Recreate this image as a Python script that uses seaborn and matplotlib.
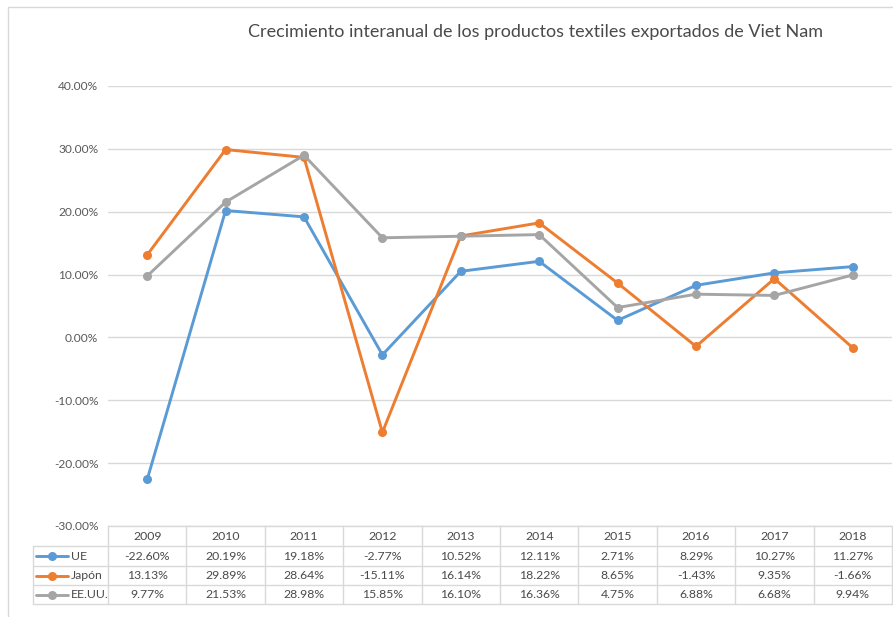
import numpy as np
import pandas as pd
import matplotlib
matplotlib.use("Agg")
import matplotlib.pyplot as plt
import seaborn as sns

years = ["2009", "2010", "2011", "2012", "2013", "2014", "2015", "2016", "2017", "2018"]
ue = [-22.60, 20.19, 19.18, -2.77, 10.52, 12.11, 2.71, 8.29, 10.27, 11.27]
japon = [13.13, 29.89, 28.64, -15.11, 16.14, 18.22, 8.65, -1.43, 9.35, -1.66]
eeuu = [9.77, 21.53, 28.98, 15.85, 16.10, 16.36, 4.75, 6.88, 6.68, 9.94]
series_names = ["UE", "Japón", "EE.UU."]
colors = ["#5B9BD5", "#ED7D31", "#A5A5A5"]
title = "Crecimiento interanual de los productos textiles exportados de Viet Nam"
yticks = [-30, -20, -10, 0, 10, 20, 30, 40]

sns.set_theme(style="white")
plt.rcParams["font.family"] = ["Lato", "DejaVu Sans"]

W, H = 893, 617
fig = plt.figure(figsize=(W / 100, H / 100), dpi=100)

# frame border
bax = fig.add_axes([0, 0, 1, 1])
bax.set_xlim(0, W); bax.set_ylim(H, 0); bax.axis("off")
bax.plot([8, 893], [7, 7], color="#D9D9D9", lw=1)
bax.plot([8, 8], [7, 617], color="#D9D9D9", lw=1)

x0, x1, ytop, ybot = 108, 892, 86, 526
ax = fig.add_axes([x0 / W, 1 - ybot / H, (x1 - x0) / W, (ybot - ytop) / H])
ax.set_zorder(2); ax.patch.set_alpha(0)

df = pd.DataFrame({"year": years * 3,
                   "value": ue + japon + eeuu,
                   "serie": sum([[n] * len(years) for n in series_names], [])})
df["x"] = df["year"].map({y: i for i, y in enumerate(years)})
sns.lineplot(data=df, x="x", y="value", hue="serie", palette=colors,
             marker="o", markersize=6.5, markeredgewidth=0, linewidth=2.1,
             legend=False, ax=ax)
ax.set_xlim(-0.5, len(years) - 0.5)
ax.set_ylim(-30, 40)
ax.set_yticks(yticks)
ax.set_yticklabels([f"{v:.2f}%" for v in yticks], color="#595959", fontsize=8.6)
ax.set_xticks([])
ax.tick_params(axis="y", length=0, pad=7)
ax.yaxis.grid(True, color="#D9D9D9", lw=1)
ax.set_axisbelow(True)
for s in ax.spines.values():
    s.set_visible(False)
ax.set_xlabel(""); ax.set_ylabel("")

fig.text(535 / W, 1 - 32 / H, title, ha="center", va="center",
         fontsize=13, color="#4A4A4A")

# data table
tc = "#D9D9D9"
colw = (x1 - x0) / len(years)
rows_y = [526, 546, 566, 585, 604]
lab_x = 33
bax.plot([x0, x1], [rows_y[0], rows_y[0]], color=tc, lw=1)
for yy in rows_y[1:]:
    bax.plot([lab_x, x1], [yy, yy], color=tc, lw=1)
bax.plot([lab_x, lab_x], [rows_y[1], rows_y[-1]], color=tc, lw=1)
for i in range(len(years) + 1):
    xx = x0 + i * colw
    bax.plot([xx, xx], [rows_y[0], rows_y[-1]], color=tc, lw=1)
tcol = "#4A4A4A"
fs = 8.8
for i, y in enumerate(years):
    bax.text(x0 + (i + 0.5) * colw, (rows_y[0] + rows_y[1]) / 2, y,
             ha="center", va="center", fontsize=fs, color=tcol)
for r, (name, vals, c) in enumerate(zip(series_names, [ue, japon, eeuu], colors)):
    yc = (rows_y[r + 1] + rows_y[r + 2]) / 2
    bax.plot([36, 68], [yc, yc], color=c, lw=2.1)
    bax.plot([52], [yc], marker="o", color=c, markersize=6.5, markeredgewidth=0)
    bax.text(71, yc, name, ha="left", va="center", fontsize=fs, color=tcol)
    for i, v in enumerate(vals):
        bax.text(x0 + (i + 0.5) * colw, yc, f"{v:.2f}%", ha="center",
                 va="center", fontsize=fs, color=tcol)

fig.savefig("out.png", dpi=100)
